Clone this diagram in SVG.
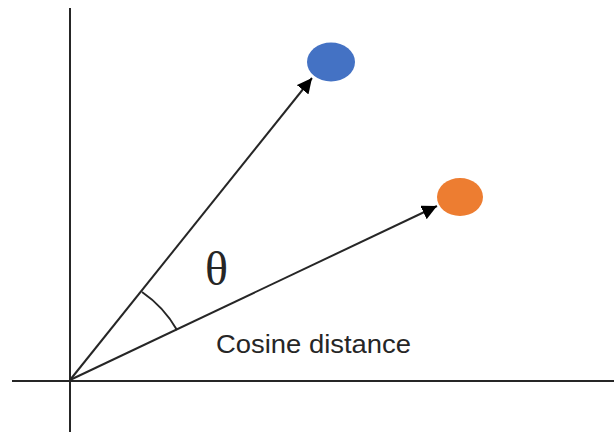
<svg xmlns="http://www.w3.org/2000/svg" width="614" height="434" viewBox="0 0 614 434">
<defs>
<style>
.ax{stroke:#262626;stroke-width:2;fill:none}
.vec{stroke:#262626;stroke-width:2;fill:none}
.lbl{font-family:"Liberation Sans",Arial,sans-serif;fill:#262626}
</style>
<marker id="ah" viewBox="0 0 10 10" refX="10" refY="5" markerWidth="7.5" markerHeight="7.5" orient="auto" markerUnits="strokeWidth">
<path d="M0,0 L10,5 L0,10 z" fill="#000"/>
</marker>
</defs>
<rect width="614" height="434" fill="#fff"/>
<g id="axes">
<line class="ax" x1="70" y1="8" x2="70" y2="432"/>
<line class="ax" x1="12" y1="381" x2="614" y2="381"/>
</g>
<g id="connectors">
<line class="vec" x1="70" y1="380" x2="312" y2="78" marker-end="url(#ah)"/>
<line class="vec" x1="70" y1="380" x2="437" y2="206" marker-end="url(#ah)"/>
<path class="vec" d="M142,292 A115,115 0 0 1 177,330"/>
</g>
<g id="blue-point"><ellipse cx="331" cy="62" rx="24" ry="19.5" fill="#4472c4"/></g>
<g id="orange-point"><ellipse cx="460" cy="197" rx="23" ry="19" fill="#ed7d31"/></g>
<g id="theta"><text x="205" y="285" style="font-family:'Liberation Serif',serif;fill:#262626" font-size="48">θ</text></g>
<g id="label"><text class="lbl" x="216" y="353" font-size="25" textLength="195" lengthAdjust="spacingAndGlyphs">Cosine distance</text></g>
</svg>
